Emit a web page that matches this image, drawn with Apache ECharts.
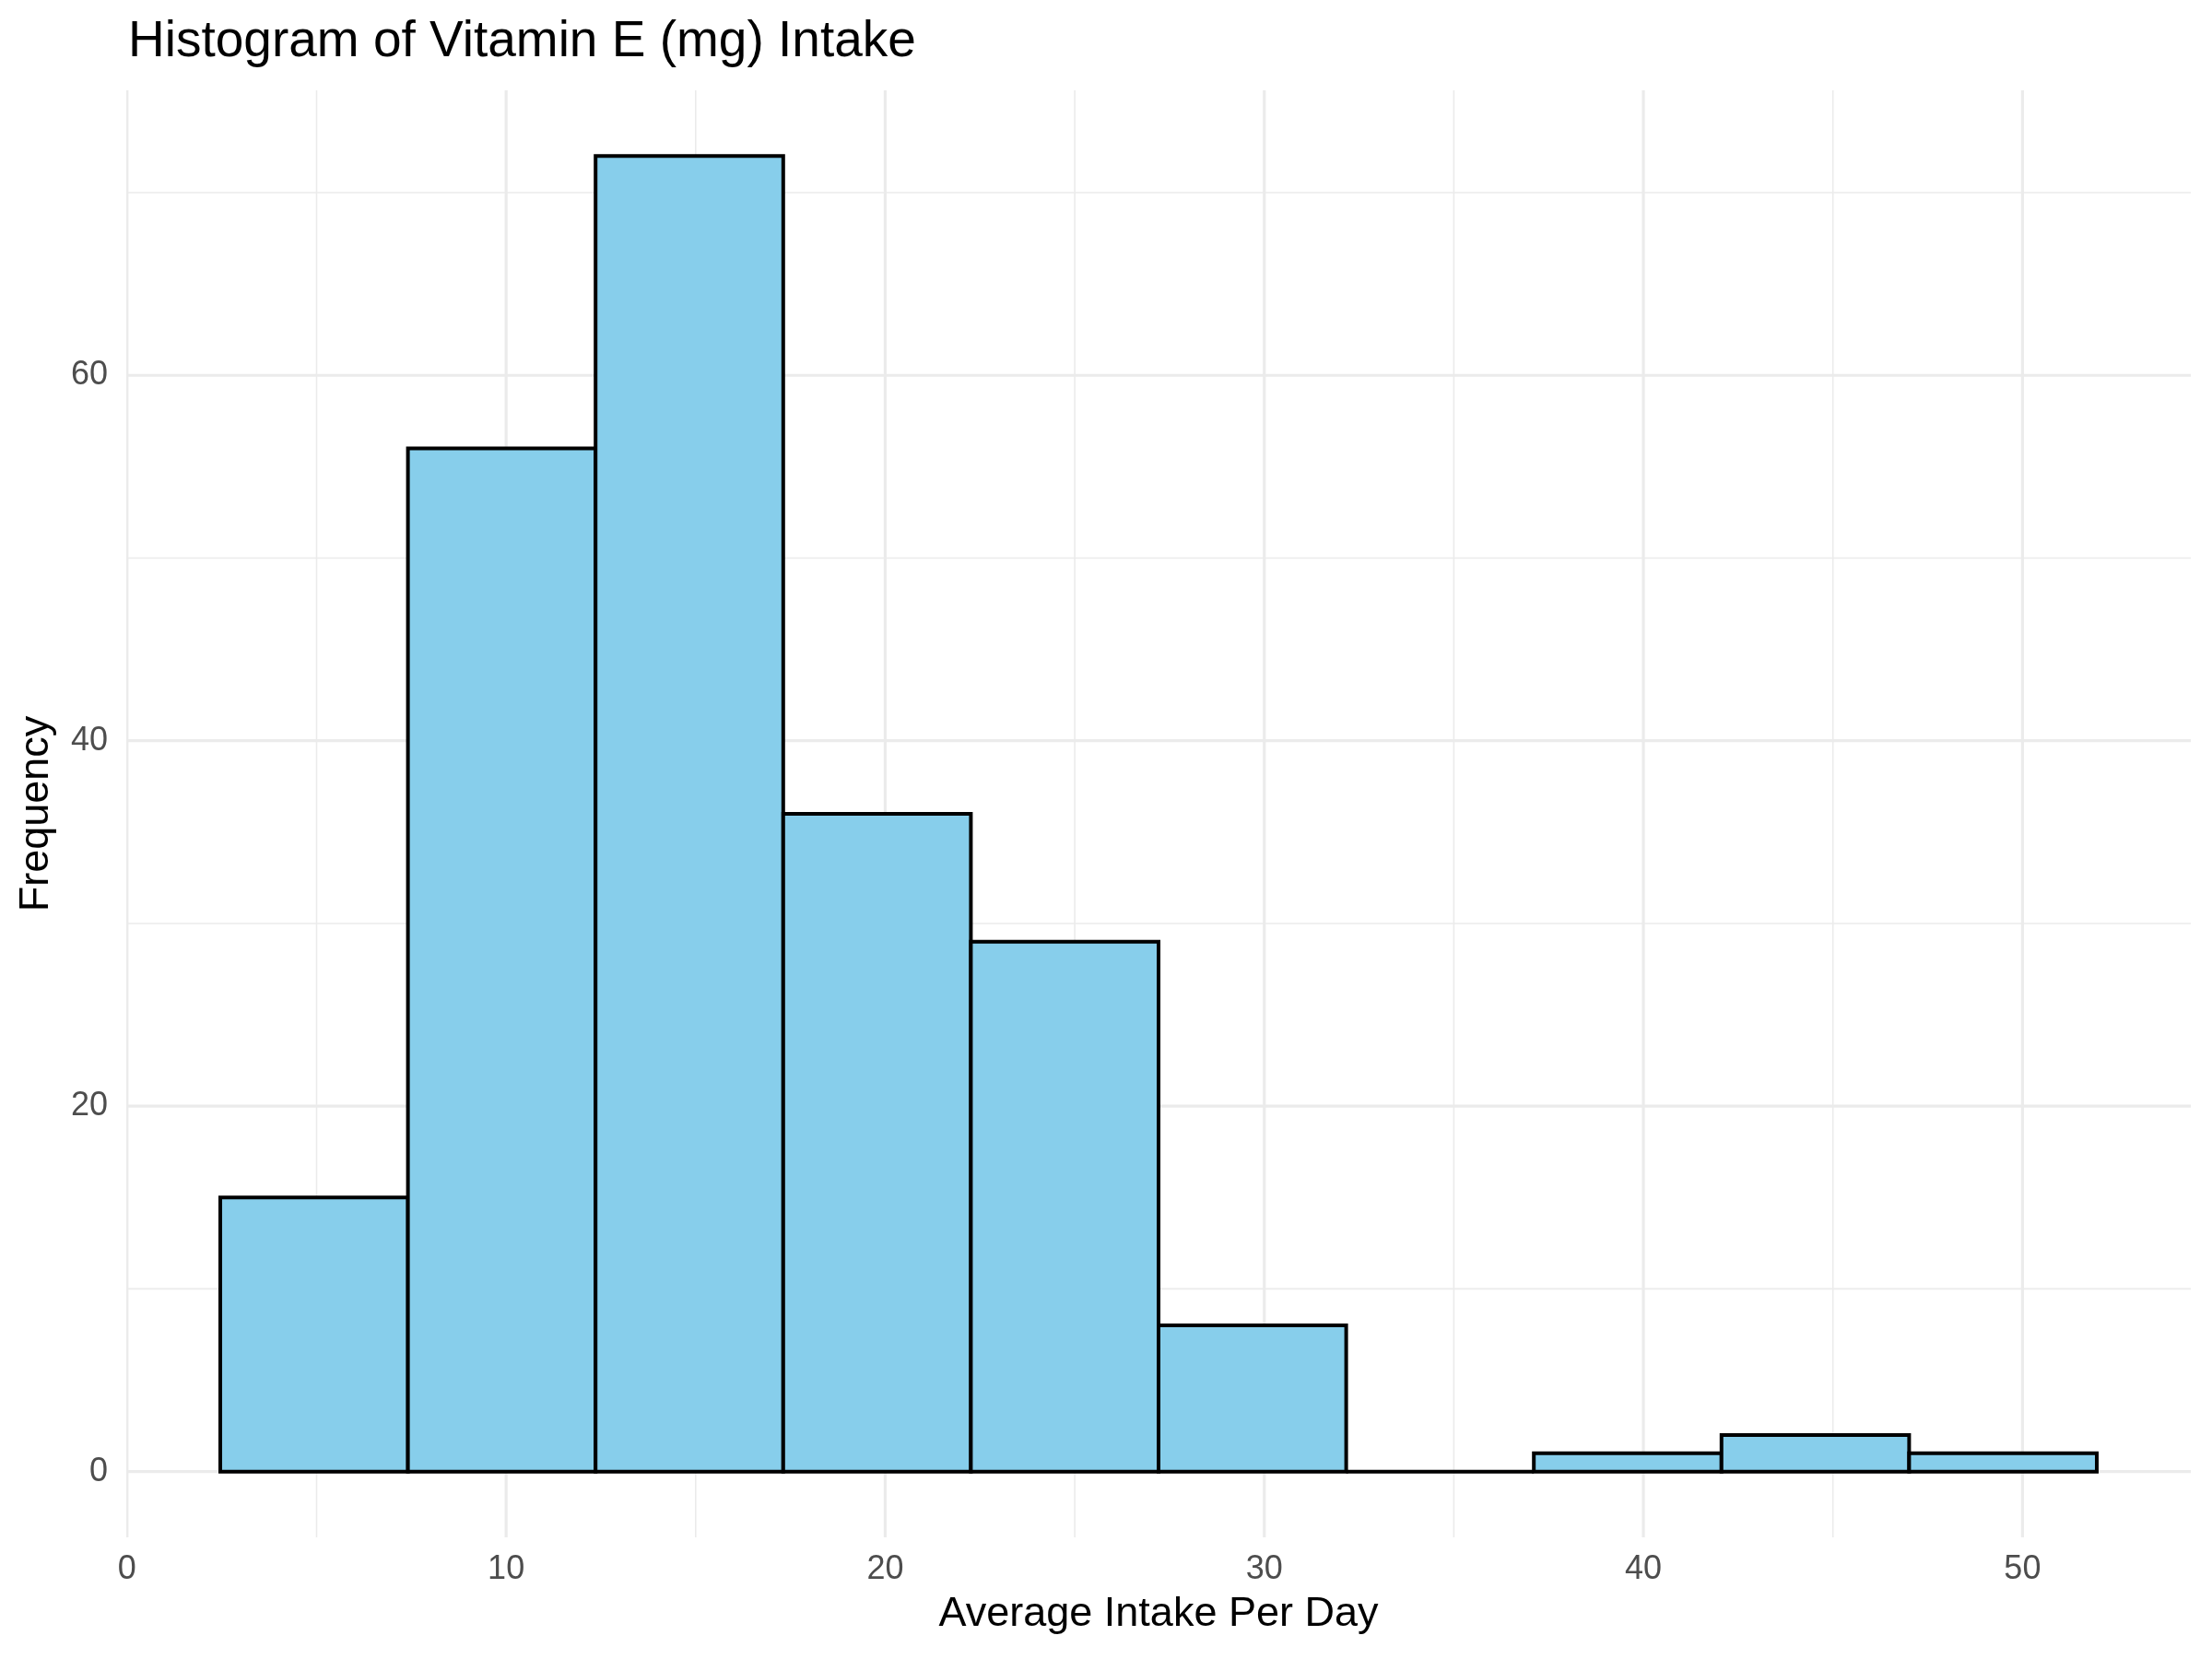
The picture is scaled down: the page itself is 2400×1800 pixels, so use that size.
<!DOCTYPE html>
<html>
<head>
<meta charset="utf-8">
<script src="https://cdn.jsdelivr.net/npm/echarts@6/dist/echarts.min.js"></script>
<style>
html,body{margin:0;padding:0;background:#fff;}
#chart{width:2400px;height:1800px;}
</style>
</head>
<body>
<div id="chart"></div>
<script>
// Histogram bins
const binEdges = [2.46, 7.41, 12.36, 17.31, 22.26, 27.21, 32.16, 37.11, 42.06, 47.01, 51.96];
const counts = [15, 56, 72, 36, 29, 8, 0, 1, 2, 1];
const xTicks = [0, 10, 20, 30, 40, 50];
const yTicks = [0, 20, 40, 60];
const xMinor = [5, 15, 25, 35, 45];
const yMinor = [10, 30, 50, 70];
const titleText = 'Histogram of Vitamin E (mg) Intake';
const xName = 'Average Intake Per Day';
const yName = 'Frequency';

const FONT = 'Liberation Sans, Arial, Helvetica, sans-serif';
const GRID_COLOR = '#EBEBEB';

const barData = counts.map((c, i) => [binEdges[i], binEdges[i + 1], c]);
const gridData = [];
xTicks.forEach(v => gridData.push(['v', v, 1]));
xMinor.forEach(v => gridData.push(['v', v, 0]));
yTicks.forEach(v => gridData.push(['h', v, 1]));
yMinor.forEach(v => gridData.push(['h', v, 0]));

const chart = echarts.init(document.getElementById('chart'), null, {renderer: 'canvas'});
chart.setOption({
  backgroundColor: '#ffffff',
  animation: false,
  title: {
    text: titleText,
    left: 134,
    top: 13,
    textStyle: {fontFamily: FONT, fontSize: 55, fontWeight: 'normal', color: '#000000'}
  },
  grid: {left: 137, right: 23, top: 98, bottom: 132},
  xAxis: {
    type: 'value',
    min: -0.02,
    max: 54.44,
    name: xName,
    nameLocation: 'middle',
    nameGap: 61,
    nameTextStyle: {fontFamily: FONT, fontSize: 45, color: '#000000'},
    axisLine: {show: false},
    axisTick: {show: false},
    splitLine: {show: false},
    axisLabel: {
      customValues: xTicks,
      margin: 17,
      fontFamily: FONT, fontSize: 36, color: '#4D4D4D'
    }
  },
  yAxis: {
    type: 'value',
    min: -3.6,
    max: 75.6,
    name: yName,
    nameLocation: 'middle',
    nameGap: 75,
    nameRotate: 90,
    nameTextStyle: {fontFamily: FONT, fontSize: 45, color: '#000000'},
    axisLine: {show: false},
    axisTick: {show: false},
    splitLine: {show: false},
    axisLabel: {
      customValues: yTicks,
      margin: 20,
      fontFamily: FONT, fontSize: 36, color: '#4D4D4D'
    }
  },
  series: [
    {
      type: 'custom',
      name: 'grid',
      silent: true,
      z: 1,
      clip: true,
      data: gridData,
      encode: {x: 1, y: 1},
      renderItem: function (params, api) {
        const cs = params.coordSys;
        const dir = api.value(0);
        const v = api.value(1);
        const major = api.value(2) === 1;
        const lw = major ? 3.2 : 1.6;
        let shape;
        if (dir === 'v') {
          const x = api.coord([v, 0])[0];
          shape = {x1: x, y1: cs.y, x2: x, y2: cs.y + cs.height};
        } else {
          const y = api.coord([0, v])[1];
          shape = {x1: cs.x, y1: y, x2: cs.x + cs.width, y2: y};
        }
        return {type: 'line', shape: shape, style: {stroke: GRID_COLOR, lineWidth: lw}};
      }
    },
    {
      type: 'custom',
      name: 'bins',
      z: 2,
      data: barData,
      encode: {x: [0, 1], y: 2},
      renderItem: function (params, api) {
        const p0 = api.coord([api.value(0), api.value(2)]);
        const p1 = api.coord([api.value(1), 0]);
        return {
          type: 'rect',
          shape: {x: p0[0], y: p0[1], width: p1[0] - p0[0], height: p1[1] - p0[1]},
          style: {fill: '#87CEEB', stroke: '#000000', lineWidth: 4}
        };
      }
    }
  ]
});
</script>
</body>
</html>
